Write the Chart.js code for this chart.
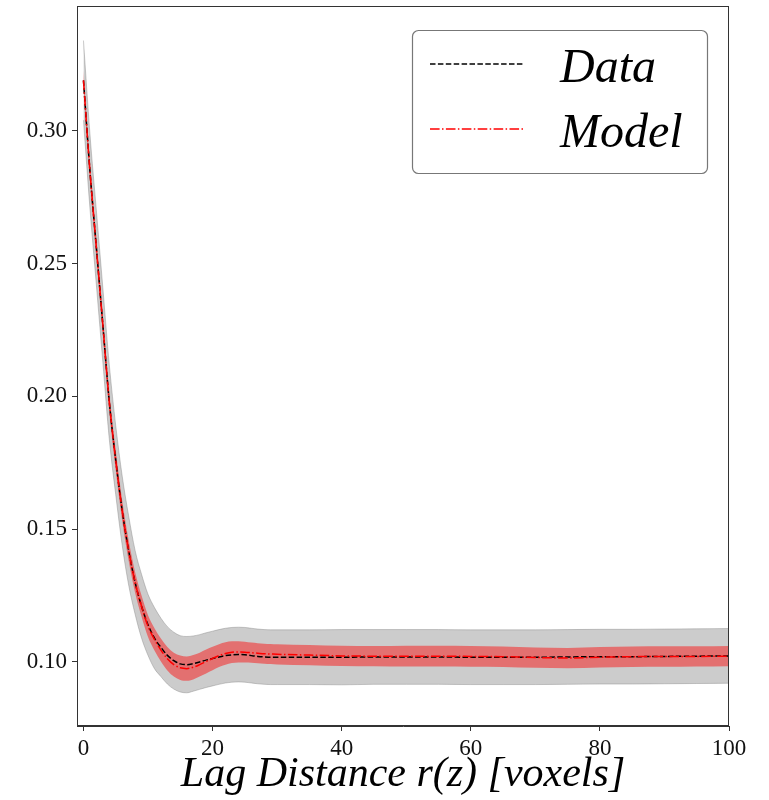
<!DOCTYPE html>
<html>
<head>
<meta charset="utf-8">
<script src="https://cdn.jsdelivr.net/npm/chart.js@4.4.1/dist/chart.umd.min.js"></script>
<style>
  body { margin: 0; background: #fff; }
  #wrap { width: 769px; height: 800px; position: relative; }
</style>
</head>
<body>
<div id="wrap"><canvas id="corrChart"></canvas></div>
<script>
// lag distance r(z) in voxels
const lags = [0, 1, 2, 3, 4, 5, 6, 7, 8, 9, 10, 11, 12, 13, 14, 15, 16, 17, 18, 19, 20,
  21, 22, 23, 24, 25, 26, 27, 28, 29, 30, 35, 40, 45, 50, 55, 60, 65, 70, 75, 80, 85, 90, 95, 100];

const dataMean = [0.319, 0.285, 0.256, 0.227, 0.198, 0.176, 0.157, 0.142, 0.130, 0.121, 0.114,
  0.109, 0.1055, 0.1025, 0.1005, 0.0993, 0.0990, 0.0994, 0.1000, 0.1007, 0.1013,
  0.1019, 0.1024, 0.1027, 0.1028, 0.1027, 0.1024, 0.1021, 0.1019, 0.1018, 0.1018,
  0.1018, 0.1018, 0.1019, 0.1019, 0.1019, 0.1018, 0.1018, 0.1018, 0.1019, 0.1020,
  0.1020, 0.1021, 0.1022, 0.1023];
const dataUpper = [0.334, 0.299, 0.270, 0.241, 0.212, 0.189, 0.170, 0.155, 0.142, 0.133, 0.1255,
  0.1205, 0.1165, 0.1133, 0.1112, 0.1099, 0.1096, 0.1098, 0.1103, 0.1110, 0.1116,
  0.1122, 0.1127, 0.1130, 0.1131, 0.1130, 0.1127, 0.1124, 0.1122, 0.1121, 0.1121,
  0.1121, 0.1122, 0.1122, 0.1122, 0.1122, 0.1121, 0.1121, 0.1121, 0.1122, 0.1123,
  0.1123, 0.1124, 0.1125, 0.1126];
const dataLower = [0.304, 0.271, 0.242, 0.213, 0.184, 0.163, 0.144, 0.129, 0.118, 0.109, 0.1025,
  0.0975, 0.0945, 0.0917, 0.0898, 0.0887, 0.0884, 0.0890, 0.0897, 0.0904, 0.0910,
  0.0916, 0.0921, 0.0924, 0.0925, 0.0924, 0.0921, 0.0918, 0.0916, 0.0915, 0.0915,
  0.0915, 0.0914, 0.0916, 0.0916, 0.0916, 0.0915, 0.0915, 0.0915, 0.0916, 0.0917,
  0.0917, 0.0918, 0.0919, 0.0920];

const modelMean = [0.319, 0.285, 0.256, 0.227, 0.198, 0.176, 0.157, 0.142, 0.130, 0.121, 0.1135,
  0.1085, 0.1045, 0.1012, 0.0990, 0.0978, 0.0975, 0.0980, 0.0990, 0.1002, 0.1013,
  0.1024, 0.1032, 0.1037, 0.1038, 0.1037, 0.1035, 0.1033, 0.1031, 0.1030, 0.1029,
  0.1026, 0.1023, 0.1022, 0.1022, 0.1022, 0.1021, 0.1020, 0.1017, 0.1015, 0.1018,
  0.1020, 0.1021, 0.1021, 0.1022];
const modelUpper = [0.3226, 0.2888, 0.2598, 0.2308, 0.2018, 0.1798, 0.1609, 0.1459, 0.1339, 0.1250, 0.1176,
  0.1127, 0.1088, 0.1056, 0.1035, 0.1024, 0.1021, 0.1026, 0.1035, 0.1047, 0.1057,
  0.1067, 0.1074, 0.1078, 0.1078, 0.1076, 0.1073, 0.1071, 0.1069, 0.1068, 0.1067,
  0.1064, 0.1061, 0.1060, 0.1061, 0.1061, 0.1060, 0.1058, 0.1055, 0.1053, 0.1056,
  0.1058, 0.1059, 0.1059, 0.1060];
const modelLower = [0.3154, 0.2812, 0.2522, 0.2232, 0.1942, 0.1722, 0.1531, 0.1381, 0.1261, 0.1170, 0.1094,
  0.1043, 0.1002, 0.0968, 0.0945, 0.0932, 0.0929, 0.0934, 0.0945, 0.0957, 0.0969,
  0.0981, 0.0990, 0.0996, 0.0998, 0.0998, 0.0997, 0.0995, 0.0993, 0.0992, 0.0991,
  0.0988, 0.0985, 0.0984, 0.0983, 0.0983, 0.0982, 0.0981, 0.0978, 0.0976, 0.0979,
  0.0981, 0.0982, 0.0983, 0.0984];

const xTicks = [0, 20, 40, 60, 80, 100];
const yTicks = [0.10, 0.15, 0.20, 0.25, 0.30];

function pts(ys) {
    return lags.map((x, i) => ({ x: x, y: ys[i] }));
}

const serif = "'Liberation Serif', 'DejaVu Serif', serif";
const grayFill = 'rgba(128,128,128,0.4)';
const redFill = 'rgba(255,0,0,0.45)';

// frame around the plot area (matplotlib style spines)
const framePlugin = {
    id: 'frame',
    afterDraw(chart) {
        const a = chart.chartArea;
        const ctx = chart.ctx;
        ctx.save();
        ctx.strokeStyle = '#333';
        ctx.lineWidth = 1;
        ctx.strokeRect(a.left + 0.5, a.top + 0.5, a.right - a.left - 1, a.bottom - a.top - 1);
        ctx.restore();
    }
};

// boxed legend in the upper right corner
const legendBox = {
    id: 'legendBox',
    afterDraw(chart) {
        const ctx = chart.ctx;
        const items = chart.data.datasets.filter(d => d.legendPos !== undefined)
            .sort((a, b) => a.legendPos - b.legendPos);
        const x0 = 412, y0 = 30, w = 295, h = 143, r = 6;
        ctx.save();
        ctx.fillStyle = 'rgba(255,255,255,0.8)';
        ctx.strokeStyle = '#777';
        ctx.lineWidth = 1.2;
        ctx.beginPath();
        ctx.roundRect(x0 + 0.5, y0 + 0.5, w, h, r);
        ctx.fill();
        ctx.stroke();
        items.forEach((d, i) => {
            const ly = 64 + i * 65;
            ctx.strokeStyle = d.borderColor;
            ctx.lineWidth = d.borderWidth;
            ctx.setLineDash(d.borderDash);
            ctx.beginPath();
            ctx.moveTo(430, ly);
            ctx.lineTo(523, ly);
            ctx.stroke();
            ctx.setLineDash([]);
            ctx.fillStyle = '#000';
            ctx.font = 'italic 48px ' + serif;
            ctx.textBaseline = 'alphabetic';
            ctx.fillText(d.label, 560, ly + 18);
        });
        ctx.restore();
    }
};

const ctx = document.getElementById('corrChart').getContext('2d');
const corrChart = new Chart(ctx, {
    type: 'line',
    data: {
        datasets: [
            {
                label: 'Model', legendPos: 1, data: pts(modelMean), order: 0,
                borderColor: '#ff0000', borderWidth: 1.5, borderDash: [9.6, 2.4, 1.5, 2.4],
                pointRadius: 0, fill: false
            },
            {
                label: 'Data', legendPos: 0, data: pts(dataMean), order: 1,
                borderColor: '#000000', borderWidth: 1.5, borderDash: [5.5, 2.4],
                pointRadius: 0, fill: false
            },
            {
                label: 'model_hi', data: pts(modelUpper), order: 2,
                borderColor: 'rgba(0,0,0,0)', borderWidth: 0, backgroundColor: redFill,
                pointRadius: 0, fill: '+1'
            },
            {
                label: 'model_lo', data: pts(modelLower), order: 3,
                borderColor: 'rgba(0,0,0,0)', borderWidth: 0, pointRadius: 0, fill: false
            },
            {
                label: 'data_hi', data: pts(dataUpper), order: 4,
                borderColor: grayFill, borderWidth: 1, backgroundColor: grayFill,
                pointRadius: 0, fill: '+1'
            },
            {
                label: 'data_lo', data: pts(dataLower), order: 5,
                borderColor: grayFill, borderWidth: 1, pointRadius: 0, fill: false
            }
        ]
    },
    options: {
        responsive: true,
        maintainAspectRatio: false,
        animation: false,
        layout: { padding: { left: 0, right: 40, top: 6, bottom: 0 } },
        elements: { line: { cubicInterpolationMode: 'monotone' } },
        plugins: {
            legend: { display: false },
            tooltip: { enabled: false }
        },
        scales: {
            x: {
                type: 'linear',
                min: -1,
                max: 100,
                afterBuildTicks: s => { s.ticks = xTicks.map(v => ({ value: v })); },
                afterFit: s => { s.height = 74; s.paddingLeft = 0; s.paddingRight = 0; },
                grid: { drawOnChartArea: false, drawTicks: true, tickLength: 5, color: '#333' },
                border: { display: true, color: '#333' },
                ticks: { color: '#111', padding: 4, font: { family: serif, size: 23 } },
                title: {
                    display: true,
                    text: 'Lag Distance r(z) [voxels]',
                    color: '#000',
                    padding: { top: 0, bottom: 0 },
                    font: { family: serif, size: 42, style: 'italic' }
                }
            },
            y: {
                type: 'linear',
                min: 0.0759,
                max: 0.347,
                afterBuildTicks: s => { s.ticks = yTicks.map(v => ({ value: v })); },
                afterFit: s => { s.width = 77; s.paddingTop = 0; s.paddingBottom = 0; },
                grid: { drawOnChartArea: false, drawTicks: true, tickLength: 5, color: '#333' },
                border: { display: true, color: '#333' },
                ticks: {
                    color: '#111', padding: 5, font: { family: serif, size: 23 },
                    callback: v => v.toFixed(2)
                }
            }
        }
    },
    plugins: [framePlugin, legendBox]
});
</script>
</body>
</html>
